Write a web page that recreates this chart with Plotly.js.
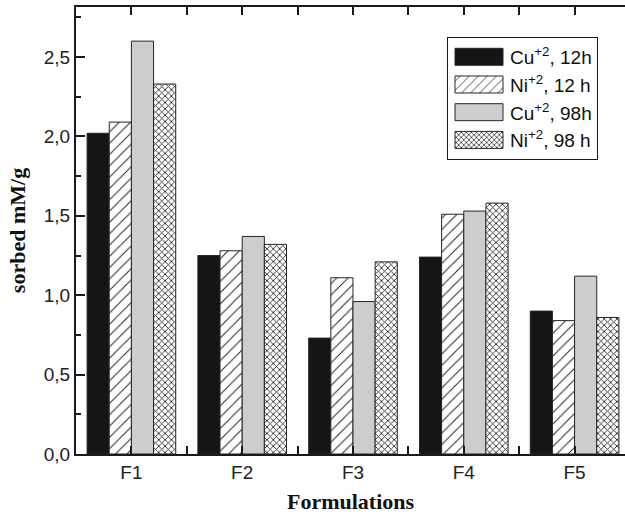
<!DOCTYPE html>
<html>
<head>
<meta charset="utf-8">
<script src="https://cdn.plot.ly/plotly-3.0.1.min.js"></script>
<style>html,body{margin:0;padding:0;background:#fff;overflow:hidden;}#chart{width:625px;height:514px;overflow:hidden;}</style>
</head>
<body>
<div id="chart"></div>
<script>
const categories = ["F1", "F2", "F3", "F4", "F5"];
const seriesNames = ["Cu<sup>+2</sup>, 12h", "Ni<sup>+2</sup>, 12 h", "Cu<sup>+2</sup>, 98h", "Ni<sup>+2</sup>, 98 h"];
const cu12h = [2.02, 1.25, 0.73, 1.24, 0.90];
const ni12h = [2.09, 1.28, 1.11, 1.51, 0.84];
const cu98h = [2.60, 1.37, 0.96, 1.53, 1.12];
const ni98h = [2.33, 1.32, 1.21, 1.58, 0.86];

const xs = categories.map((c, i) => i);
// ticks at category centres (labelled) and at boundaries (unlabelled)
const xTickVals = [];
const xTickText = [];
categories.forEach((c, i) => {
  xTickVals.push(i - 0.5); xTickText.push("");
  xTickVals.push(i); xTickText.push(c);
});
xTickVals.push(categories.length - 0.5); xTickText.push("");

const lineStyle = {color: "#262626", width: 1};

const traces = [
  {type: "bar", name: seriesNames[0], x: xs, y: cu12h,
   marker: {color: "#151515", line: lineStyle}},
  {type: "bar", name: seriesNames[1], x: xs, y: ni12h,
   marker: {color: "#ffffff", line: lineStyle,
            pattern: {shape: "/", fgcolor: "#222", bgcolor: "#ffffff", size: 8, solidity: 0.12}}},
  {type: "bar", name: seriesNames[2], x: xs, y: cu98h,
   marker: {color: "#cdcdcd", line: lineStyle}},
  {type: "bar", name: seriesNames[3], x: xs, y: ni98h,
   marker: {color: "#ffffff", line: lineStyle,
            pattern: {shape: "x", fgcolor: "#222", bgcolor: "#ffffff", size: 4.5, solidity: 0.35}}}
];

const sans = "Arial, 'Liberation Sans', sans-serif";
const serif = "'Times New Roman', 'Liberation Serif', serif";

const axisCommon = {
  showline: true, linecolor: "#1a1a1a", linewidth: 2,
  ticks: "inside", tickcolor: "#1a1a1a", tickwidth: 2,
  showgrid: false, zeroline: false,
  tickfont: {family: sans, size: 19, color: "#222"}
};

const layout = {
  width: 625, height: 514,
  margin: {l: 76, r: 0, t: 7, b: 60},
  paper_bgcolor: "#fff", plot_bgcolor: "#fff",
  separators: ", ",
  barmode: "group", bargap: 0.2, bargroupgap: 0,
  showlegend: true,
  legend: {
    x: 0.6758, y: 0.933, xanchor: "left", yanchor: "top",
    bordercolor: "#1a1a1a", borderwidth: 1, bgcolor: "#fff",
    font: {family: sans, size: 19, color: "#111"},
    itemwidth: 52, traceorder: "normal"
  },
  xaxis: Object.assign({}, axisCommon, {
    range: [-0.5, 4.455], mirror: "allticks",
    tickmode: "array", tickvals: xTickVals, ticktext: xTickText,
    ticklen: 8,
    title: {text: "Formulations", standoff: 12,
            font: {family: serif, size: 22, color: "#111", weight: "bold"}}
  }),
  yaxis: Object.assign({}, axisCommon, {
    range: [0, 2.815], dtick: 0.5, tick0: 0, ticklen: 9, tickformat: ".1f", mirror: false,
    minor: {dtick: 0.25, ticks: "inside", ticklen: 5, tickwidth: 2, tickcolor: "#1a1a1a"},
    title: {text: "sorbed mM/g", standoff: 12,
            font: {family: serif, size: 22, color: "#111", weight: "bold"}}
  })
};

Plotly.newPlot("chart", traces, layout, {displayModeBar: false, staticPlot: true}).then(function (gd) {
  // enlarge the legend swatches to the wide boxes of the reference
  gd.querySelectorAll(".legend .legendpoints path").forEach(function (p) {
    p.setAttribute("d", "M24,8.5H-24V-8.5H24Z");
  });
});
</script>
</body>
</html>
